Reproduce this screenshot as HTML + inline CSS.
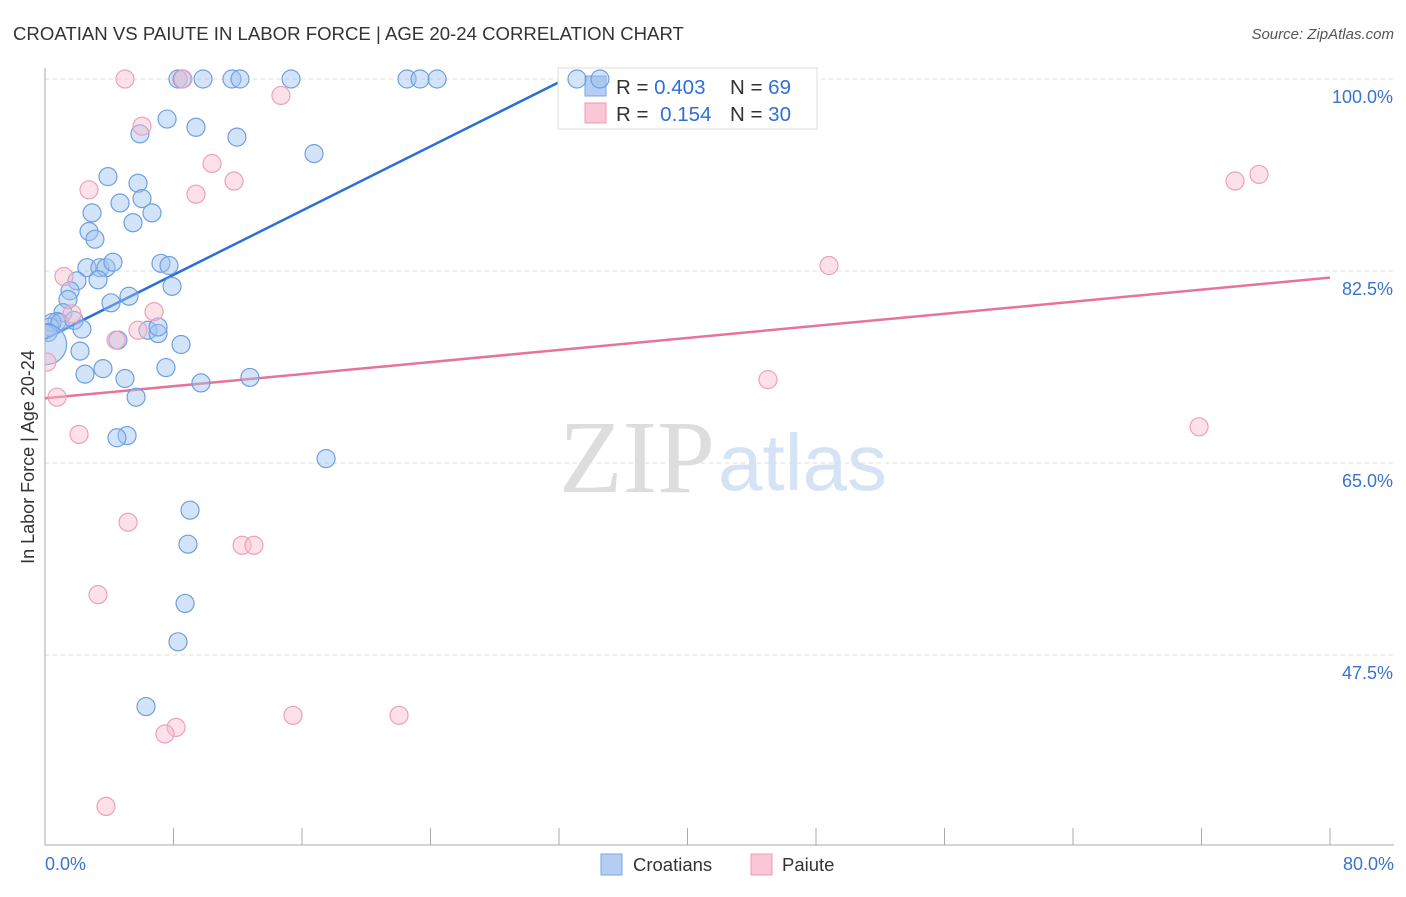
<!DOCTYPE html>
<html><head><meta charset="utf-8"><style>
body{margin:0;background:#fff;font-family:"Liberation Sans",sans-serif;}
svg text{font-family:"Liberation Sans",sans-serif;}
</style></head><body>
<svg id="chart" width="1406" height="892" xmlns="http://www.w3.org/2000/svg">
<text x="13" y="40" font-size="18.6" fill="#333">CROATIAN VS PAIUTE IN LABOR FORCE | AGE 20-24 CORRELATION CHART</text>
<text x="1394" y="39" font-size="15" fill="#555" text-anchor="end" font-style="italic">Source: ZipAtlas.com</text>
<text x="34" y="457" font-size="18" fill="#333" text-anchor="middle" transform="rotate(-90 34 457)">In Labor Force | Age 20-24</text>
<text x="715" y="492" font-size="104" fill="#ddd" style="font-family:'Liberation Serif',serif" text-anchor="end">ZIP</text>
<text x="718" y="490" font-size="80" fill="#d6e3f5">atlas</text>
<g id="grid"></g><g id="axes"></g><g id="lines"></g>
<g>
<rect x="558" y="68" width="259" height="61" fill="#fff" stroke="#ddd"/>
<rect x="585" y="76" width="21" height="20" fill="#b4cdf2" stroke="#7aa5e6"/>
<rect x="585" y="103" width="21" height="20" fill="#f9c7d5" stroke="#f09ab4"/>
<text x="616" y="94" font-size="20.5" fill="#333">R = <tspan fill="#2f6fd6">0.403</tspan></text>
<text x="730" y="94" font-size="20.5" fill="#333">N = <tspan fill="#2f6fd6">69</tspan></text>
<text x="616" y="121" font-size="20.5" fill="#333">R = <tspan fill="#2f6fd6" dx="6">0.154</tspan></text>
<text x="730" y="121" font-size="20.5" fill="#333">N = <tspan fill="#2f6fd6">30</tspan></text>
</g>
<g id="pts"></g>
<g>
<rect x="601" y="854" width="21" height="21" fill="#b4cdf2" stroke="#7aa5e6"/>
<text x="633" y="871" font-size="18.5" fill="#333">Croatians</text>
<rect x="751" y="854" width="21" height="21" fill="#f9c7d5" stroke="#f09ab4"/>
<text x="782" y="871" font-size="18.5" fill="#333">Paiute</text>
</g>
</svg>
<script>
const blueX=[8.28,8.53,9.84,11.64,12.14,15.32,22.54,23.35,24.41,33.12,34.55,7.60,9.40,5.91,11.95,16.75,3.92,5.79,4.67,6.04,6.66,2.93,5.48,2.74,3.11,2.61,3.42,3.80,4.23,7.22,7.72,1.99,3.30,7.91,5.23,1.56,1.43,4.11,1.12,0.75,0.44,0.31,0.93,1.81,2.30,0.19,4.54,6.41,7.04,7.04,8.47,2.18,7.53,3.61,2.49,4.98,9.71,12.76,5.67,5.11,4.48,17.50,9.03,8.90,8.72,8.28,6.29,0.1];
const blueY=[100,100,100,100,100,100,100,100,100,100,100,96.35,95.6,95.0,94.7,93.2,91.1,90.5,88.7,89.1,87.8,87.8,86.9,86.1,85.4,82.8,82.8,82.8,83.3,83.2,83.0,81.6,81.7,81.1,80.2,80.7,79.9,79.6,78.7,77.9,77.8,77.4,77.8,78.0,77.2,76.9,76.2,77.1,76.8,77.4,75.8,75.2,73.7,73.6,73.1,72.7,72.3,72.8,71.0,67.5,67.3,65.4,60.7,57.6,52.2,48.7,42.8,75.8];
const pinkX=[4.98,8.59,14.69,6.04,10.40,2.74,9.40,11.77,1.18,6.79,1.68,5.79,4.42,0.12,0.75,2.12,5.17,12.27,13.01,3.30,15.44,22.04,8.16,7.47,3.80,48.81,45.01,74.09,75.58,71.85];
const pinkY=[100,100,98.5,95.7,92.3,89.9,89.5,90.7,82.0,78.8,78.6,77.1,76.2,74.2,71.0,67.6,59.6,57.5,57.5,53.0,42.0,42.0,40.9,40.3,33.7,83.0,72.6,90.7,91.3,68.3];
const blueTrend=[76.3,100.0]; const blueTrendX=[0,32.4];
const pinkTrend=[70.9,81.9]; const pinkTrendX=[0,80];
const yTicks=[100,82.5,65,47.5];
const yTickLabels=["100.0%","82.5%","65.0%","47.5%"];
const xTicks=[0,8,16,24,32,40,48,56,64,72,80];
const xLabels=["0.0%","80.0%"];
const NS="http://www.w3.org/2000/svg";
const sx=v=>45+v/80*1285, sy=v=>79+(100-v)/17.5*192;
function mk(p,t,a){const e=document.createElementNS(NS,t);for(const k in a)e.setAttribute(k,a[k]);document.getElementById(p).appendChild(e);return e;}
yTicks.forEach((v,i)=>{
 const l=mk('grid','line',{x1:45,x2:1394,y1:sy(v),y2:sy(v),stroke:'#ddd','stroke-dasharray':'4,4'});
 
 
 const t=mk('grid','text',{x:1393,y:sy(v)+24,'font-size':18,fill:'#3b73cc','text-anchor':'end'});t.textContent=yTickLabels[i];
 
 
});
const ax=mk('axes','line',{x1:45,x2:45,y1:68,y2:845,stroke:'#aaa'});


const bx=mk('axes','line',{x1:45,x2:1394,y1:845,y2:845,stroke:'#aaa'});


xTicks.forEach(v=>{const t=mk('axes','line',{x1:sx(v),x2:sx(v),y1:828,y2:845,stroke:'#aaa'});
 
 });
[[0,'start',45],[80,'end',1394]].forEach((d,i)=>{const t=mk('axes','text',{x:d[2],y:870,'font-size':18,fill:'#3b73cc','text-anchor':d[1]});t.textContent=xLabels[i];
 
 });
const cp=mk('pts','clipPath',{id:'cp'});const cr=document.createElementNS(NS,'rect');cr.setAttribute('x',45);cr.setAttribute('y',60);cr.setAttribute('width',1360);cr.setAttribute('height',785);cp.appendChild(cr);
const g=mk('pts','g',{'clip-path':'url(#cp)'});g.id='ptsin';
blueX.forEach((x,i)=>{const c=mk('ptsin','circle',{cx:sx(x),cy:sy(blueY[i]),r:i==blueX.length-1?20:9,fill:'rgba(160,195,240,0.45)',stroke:'#6f9fe0','stroke-width':1.2});
 
 });
pinkX.forEach((x,i)=>{const c=mk('ptsin','circle',{cx:sx(x),cy:sy(pinkY[i]),r:9,fill:'rgba(248,190,205,0.45)',stroke:'#eea0b8','stroke-width':1.2});
 
 });
const bl=mk('lines','line',{x1:sx(blueTrendX[0]),y1:sy(blueTrend[0]),x2:sx(blueTrendX[1]),y2:sy(blueTrend[1]),stroke:'#2a6fd4','stroke-width':2.5});


const pl=mk('lines','line',{x1:sx(pinkTrendX[0]),y1:sy(pinkTrend[0]),x2:sx(pinkTrendX[1]),y2:sy(pinkTrend[1]),stroke:'#e8739a','stroke-width':2.5});


</script>
</body></html>
